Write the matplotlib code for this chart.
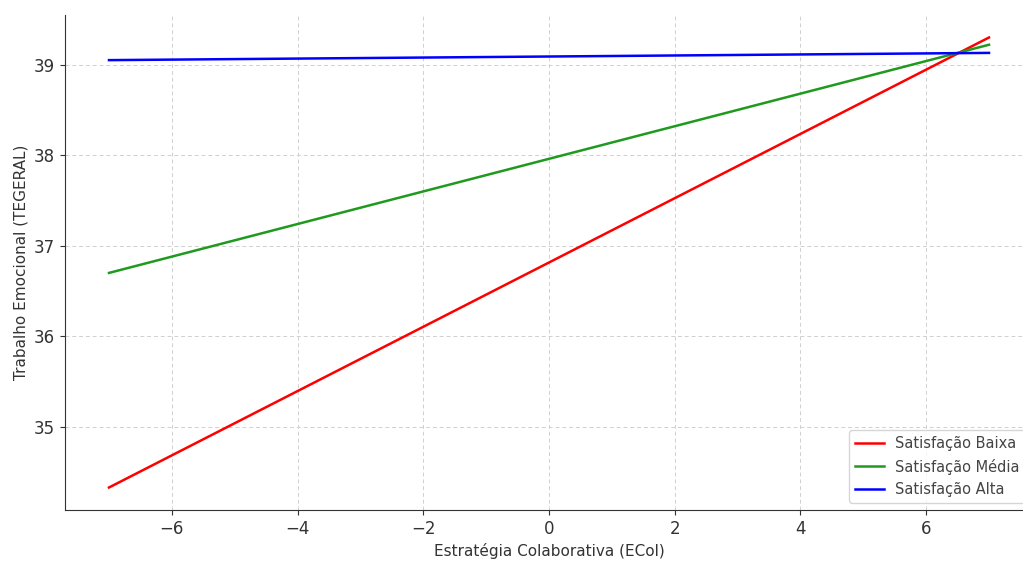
import numpy as np
import matplotlib.pyplot as plt

# Dados (extremos das retas)
ecol = [-7, 7]
sat_baixa = [34.33, 39.30]
sat_media = [36.70, 39.22]
sat_alta = [39.05, 39.13]

fig = plt.figure(figsize=(10.23, 5.61), dpi=100)
ax = fig.add_axes([65 / 1023, 51 / 561, 968 / 1023, 495 / 561])

ax.plot(ecol, sat_baixa, color='red', linewidth=1.8, label='Satisfação Baixa')
ax.plot(ecol, sat_media, color='#1f9a1f', linewidth=1.8, label='Satisfação Média')
ax.plot(ecol, sat_alta, color='blue', linewidth=1.8, label='Satisfação Alta')

ax.set_xlabel('Estratégia Colaborativa (ECol)', fontsize=11, color='#333333')
ax.set_ylabel('Trabalho Emocional (TEGERAL)', fontsize=11, color='#333333')
ax.tick_params(labelsize=12, colors='#333333')
ax.grid(True, linestyle=(0, (4, 3)), color='#d0d0d0', linewidth=0.7)
for s in ['top', 'right']:
    ax.spines[s].set_visible(False)
for s in ['left', 'bottom']:
    ax.spines[s].set_color('#333333')

ax.legend(loc='lower right', fontsize=10.5, labelcolor='#444444')

fig.savefig('out.png', dpi=100)
